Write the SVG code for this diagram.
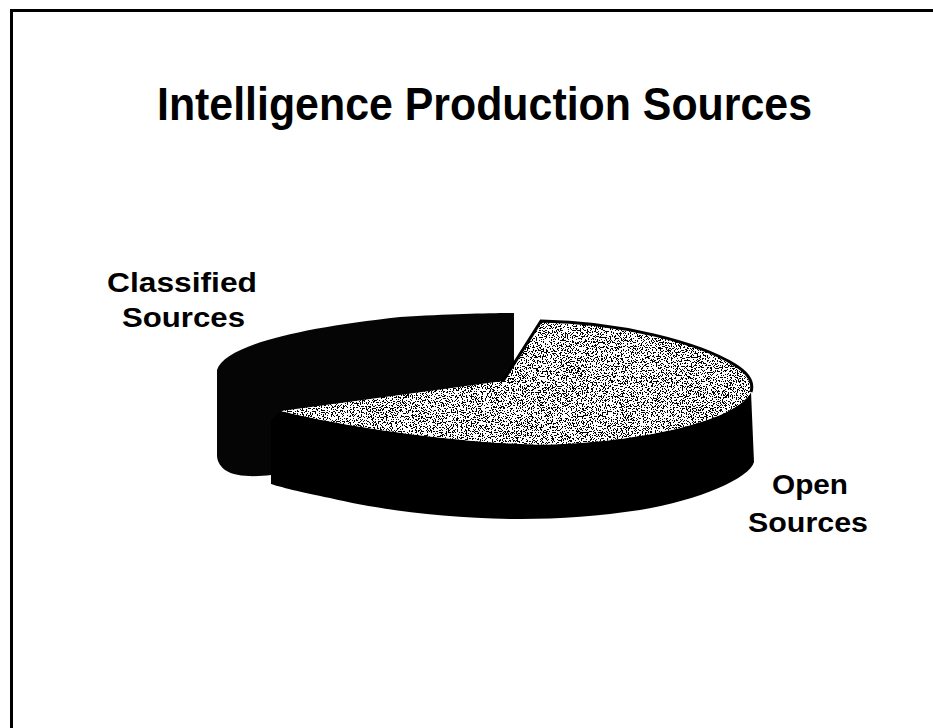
<svg xmlns="http://www.w3.org/2000/svg" width="933" height="728" viewBox="0 0 933 728">
  <style>
    .title { font-family: "Liberation Sans Narrow", "Liberation Sans", Arial, sans-serif; font-weight: bold; font-size: 46px; fill: #000; }
    .lbl { font-family: "Liberation Sans", Arial, sans-serif; font-weight: bold; font-size: 27px; fill: #000; }
    .dark { fill: #050505; }
  </style>
  <defs>
    <filter id="speckle" x="0" y="0" width="1" height="1" color-interpolation-filters="sRGB">
      <feTurbulence type="fractalNoise" baseFrequency="0.8" numOctaves="2" seed="7" result="n"/>
      <feColorMatrix in="n" type="matrix" values="0.33 0.33 0.33 0 0  0.33 0.33 0.33 0 0  0.33 0.33 0.33 0 0  0 0 0 0 1" result="g"/>
      <feComponentTransfer in="g" result="b">
        <feFuncR type="discrete" tableValues="0 0 0 0 0 0 0 1 1 1 1 1 1 1 1"/>
        <feFuncG type="discrete" tableValues="0 0 0 0 0 0 0 1 1 1 1 1 1 1 1"/>
        <feFuncB type="discrete" tableValues="0 0 0 0 0 0 0 1 1 1 1 1 1 1 1"/>
      </feComponentTransfer>
      <feComposite in="b" in2="SourceGraphic" operator="in"/>
    </filter>
    <filter id="sparse" x="0" y="0" width="1" height="1" color-interpolation-filters="sRGB">
      <feTurbulence type="fractalNoise" baseFrequency="0.9" numOctaves="2" seed="11" result="n"/>
      <feColorMatrix in="n" type="matrix" values="0.33 0.33 0.33 0 0  0.33 0.33 0.33 0 0  0.33 0.33 0.33 0 0  0 0 0 0 1" result="g"/>
      <feComponentTransfer in="g" result="b">
        <feFuncR type="discrete" tableValues="0 0 0 0 0 0 0 0 0 1"/>
        <feFuncG type="discrete" tableValues="0 0 0 0 0 0 0 0 0 1"/>
        <feFuncB type="discrete" tableValues="0 0 0 0 0 0 0 0 0 1"/>
      </feComponentTransfer>
      <feComposite in="b" in2="SourceGraphic" operator="in"/>
    </filter>
  </defs>
  <rect width="933" height="728" fill="#fff"/>
  <rect x="11.5" y="10.5" width="940" height="740" fill="none" stroke="#000" stroke-width="3"/>

  <g id="title">
    <text class="title" x="157" y="120" textLength="655" lengthAdjust="spacingAndGlyphs">Intelligence Production Sources</text>
  </g>

  <g id="classified-slice">
    <path class="dark" d="M217,370 C225,345 300,328 400,317 C450,314 490,313 514,313 L514,390 L282,411 L271,475 C255,477 235,477 225,470 C219,465 217,460 217,455 Z"/>
  </g>

  <g id="open-slice">
    <path class="dark" d="M281,411 C350,428 450,441 521,444 C560,446 620,442 680,428 C720,418 745,405 751,392 L754,462 C750,478 700,500 640,510 C600,516 560,519 521,519 C450,519 380,510 330,498 C300,492 280,487 271,484 L271,420 Z" filter="url(#sparse)"/>
    <path d="M541,321 C620,322 700,343 735,365 C748,373 754,382 751,392 C745,405 720,418 680,428 C620,442 560,446 521,444 C450,441 350,428 281,411 L503,381 Z" fill="#9c9c9c" filter="url(#speckle)"/>
    <path d="M503,381 L541,321 C620,322 700,343 735,365 C748,373 754,382 751,392" fill="none" stroke="#000" stroke-width="3"/>
  </g>

  <g id="label-classified">
    <text class="lbl" x="107" y="292" textLength="150" lengthAdjust="spacingAndGlyphs">Classified</text>
    <text class="lbl" x="122" y="327" textLength="123" lengthAdjust="spacingAndGlyphs">Sources</text>
  </g>

  <g id="label-open">
    <text class="lbl" x="772" y="494" textLength="76" lengthAdjust="spacingAndGlyphs">Open</text>
    <text class="lbl" x="748" y="532" textLength="120" lengthAdjust="spacingAndGlyphs">Sources</text>
  </g>
</svg>
